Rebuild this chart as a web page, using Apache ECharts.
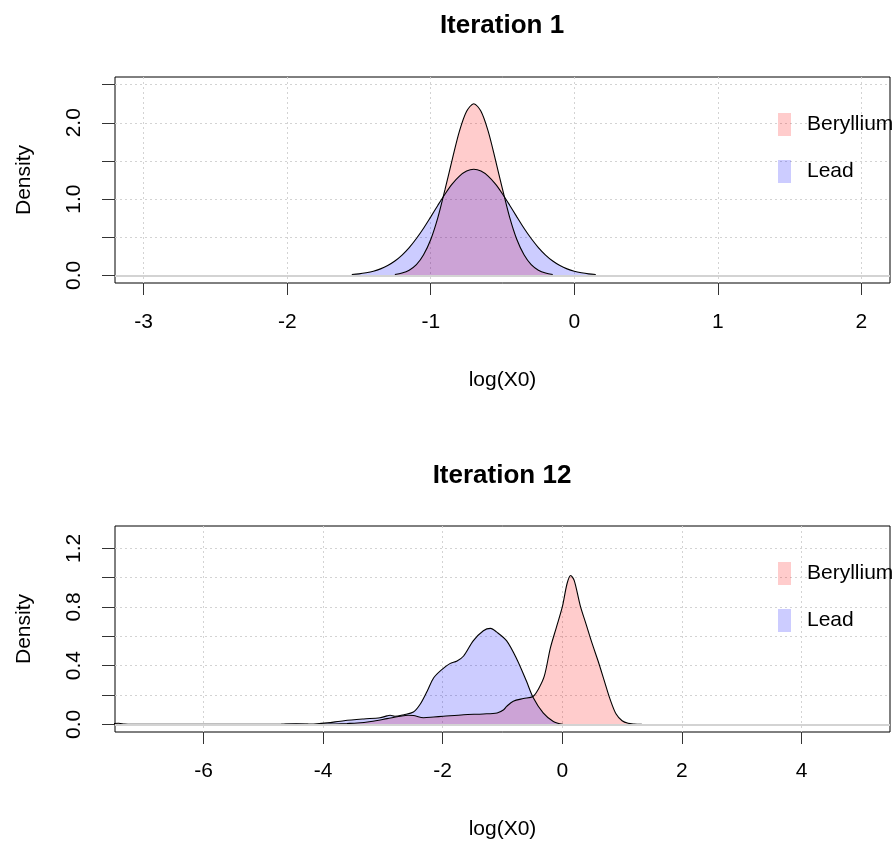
<!DOCTYPE html>
<html>
<head>
<meta charset="utf-8">
<script src="https://cdn.jsdelivr.net/npm/echarts@6/dist/echarts.min.js"></script>
<style>
  html, body { margin: 0; padding: 0; background: #fff; }
  #chart { width: 892px; height: 844px; }
</style>
</head>
<body>
<div id="chart"></div>
<script>
// Iteration 1: kernel density of log(X0)
const it1BerylliumX = [-1.25, -1.20, -1.15, -1.10, -1.05, -1.00, -0.95, -0.90, -0.85, -0.80, -0.75, -0.70,
  -0.65, -0.60, -0.55, -0.50, -0.45, -0.40, -0.35, -0.30, -0.25, -0.20, -0.15];
const it1BerylliumY = [0.012, 0.03, 0.068, 0.14, 0.27, 0.47, 0.76, 1.13, 1.52, 1.89, 2.15, 2.25,
  2.15, 1.89, 1.52, 1.13, 0.76, 0.47, 0.27, 0.14, 0.068, 0.03, 0.012];

const it1LeadX = [-1.55, -1.50, -1.45, -1.40, -1.35, -1.30, -1.25, -1.20, -1.15, -1.10, -1.05, -1.00,
  -0.95, -0.90, -0.85, -0.80, -0.75, -0.70, -0.65, -0.60, -0.55, -0.50, -0.45, -0.40,
  -0.35, -0.30, -0.25, -0.20, -0.15, -0.10, -0.05, 0.00, 0.05, 0.10, 0.15];
const it1LeadY = [0.012, 0.020, 0.034, 0.054, 0.085, 0.129, 0.188, 0.266, 0.364, 0.483, 0.618, 0.767,
  0.920, 1.067, 1.198, 1.301, 1.367, 1.39, 1.367, 1.301, 1.198, 1.067, 0.920, 0.767,
  0.618, 0.483, 0.364, 0.266, 0.188, 0.129, 0.085, 0.054, 0.034, 0.020, 0.012];

// Iteration 12
const it12BerylliumX = [-7.60, -7.50, -7.42, -7.32, -7.20, -4.05, -3.80, -3.60, -3.43, -3.20, -2.93, -2.71,
  -2.58, -2.49, -2.32, -2.15, -1.99, -1.65, -1.32, -1.09, -0.98, -0.93, -0.82, -0.65,
  -0.49, -0.40, -0.30, -0.20, -0.10, 0.00, 0.08, 0.14, 0.20, 0.30, 0.40, 0.50,
  0.60, 0.70, 0.80, 0.90, 1.00, 1.10, 1.20, 1.33];
const it12BerylliumY = [0, 0.006, 0.008, 0.002, 0, 0, 0.003, 0.006, 0.009, 0.02, 0.039, 0.055,
  0.062, 0.06, 0.045, 0.05, 0.055, 0.066, 0.071, 0.078, 0.10, 0.123, 0.158, 0.176,
  0.19, 0.24, 0.33, 0.52, 0.66, 0.80, 0.96, 1.015, 0.98, 0.81, 0.68, 0.55,
  0.43, 0.30, 0.17, 0.07, 0.025, 0.007, 0.002, 0];

const it12LeadX = [-4.70, -4.63, -4.45, -4.30, -4.22, -4.16, -3.93, -3.65, -3.32, -3.05, -2.93, -2.88,
  -2.80, -2.65, -2.49, -2.38, -2.26, -2.15, -2.01, -1.88, -1.76, -1.65, -1.49, -1.32,
  -1.20, -1.10, -0.93, -0.76, -0.60, -0.49, -0.32, -0.15, 0.01];
const it12LeadY = [0, 0.003, 0.004, 0.003, 0, 0.001, 0.01, 0.025, 0.037, 0.045, 0.058, 0.062,
  0.055, 0.066, 0.084, 0.135, 0.226, 0.318, 0.375, 0.414, 0.432, 0.466, 0.569, 0.638,
  0.654, 0.63, 0.569, 0.444, 0.295, 0.185, 0.078, 0.02, 0];

// Axis ticks and labels
const xTicksTop = [-3, -2, -1, 0, 1, 2];
const yTicksTop = [0, 0.5, 1, 1.5, 2, 2.5];
const yLabelsTop = [0, 1, 2];
const xTicksBottom = [-6, -4, -2, 0, 2, 4];
const yTicksBottom = [0, 0.2, 0.4, 0.6, 0.8, 1.0, 1.2];
const yLabelsBottom = [0, 0.4, 0.8, 1.2];

const seriesNames = ['Beryllium', 'Lead'];
const fillColors = ['rgba(255,0,0,0.2)', 'rgba(0,0,255,0.2)'];

const FONT = '"Liberation Sans", Arial, Helvetica, sans-serif';
const zip = (xs, ys) => xs.map((x, i) => [x, ys[i]]);

function xAxisFor(gridIndex, min, max, ticks) {
  return {
    type: 'value', gridIndex, min, max,
    name: 'log(X0)', nameLocation: 'middle', nameGap: 87,
    nameTextStyle: { fontFamily: FONT, fontSize: 21, color: '#000' },
    axisLine: { show: false, onZero: false },
    axisTick: { show: true, length: 12, customValues: ticks, lineStyle: { color: '#333', width: 1 } },
    axisLabel: { customValues: ticks, fontFamily: FONT, fontSize: 21, color: '#000', margin: 29,
      formatter: v => String(v) },
    splitLine: { show: true, lineStyle: { color: '#d3d3d3', type: [2, 3], width: 1 } }
  };
}

function yAxisFor(gridIndex, min, max, ticks, labels) {
  return {
    type: 'value', gridIndex, min, max,
    name: 'Density', nameLocation: 'middle', nameGap: 80, nameRotate: 90,
    nameTextStyle: { fontFamily: FONT, fontSize: 21, color: '#000' },
    axisLine: { show: false, onZero: false },
    axisTick: { show: true, length: 13, customValues: ticks, lineStyle: { color: '#333', width: 1 } },
    axisLabel: { customValues: labels, rotate: 90, fontFamily: FONT, fontSize: 21, color: '#000', margin: 30,
      formatter: v => v.toFixed(1) },
    splitLine: { show: true, lineStyle: { color: '#d3d3d3', type: [2, 3], width: 1 } }
  };
}

function densitySeries(name, idx, data, gridIndex) {
  return {
    name, type: 'line', xAxisIndex: gridIndex, yAxisIndex: gridIndex,
    data, showSymbol: false, symbol: 'none', smooth: 0.3, clip: true, z: 3,
    itemStyle: { color: fillColors[idx] },
    lineStyle: { color: '#000', width: 1.1 },
    areaStyle: { color: fillColors[idx], opacity: 1 },
    emphasis: { disabled: true }
  };
}

function zeroLine(gridIndex) {
  return {
    type: 'line', xAxisIndex: gridIndex, yAxisIndex: gridIndex, data: [], z: 2,
    markLine: { silent: true, symbol: 'none', label: { show: false },
      lineStyle: { color: '#d3d3d3', width: 2, type: 'solid' },
      data: [{ yAxis: 0 }] }
  };
}

function legendFor(top) {
  return {
    orient: 'vertical', left: 778, top, padding: 0,
    icon: 'rect', itemWidth: 13, itemHeight: 23, itemGap: 24,
    selectedMode: false,
    textStyle: { fontFamily: FONT, fontSize: 21, color: '#000', padding: [0, 0, 0, 11] },
    data: seriesNames.map((n, i) => ({ name: n, itemStyle: { color: fillColors[i], borderWidth: 0 } }))
  };
}

const chart = echarts.init(document.getElementById('chart'), null, { renderer: 'canvas' });
chart.setOption({
  animation: false,
  backgroundColor: '#fff',
  title: [
    { text: 'Iteration 1', left: 502, top: 13, textAlign: 'center', padding: 0,
      textStyle: { fontFamily: FONT, fontSize: 26, fontWeight: 'bold', color: '#000' } },
    { text: 'Iteration 12', left: 502, top: 463, textAlign: 'center', padding: 0,
      textStyle: { fontFamily: FONT, fontSize: 26, fontWeight: 'bold', color: '#000' } }
  ],
  legend: [legendFor(113), legendFor(562)],
  grid: [
    { left: 115, top: 77, width: 775, height: 206, show: true, borderColor: '#000', borderWidth: 1,
      backgroundColor: 'transparent' },
    { left: 115, top: 526, width: 775, height: 206, show: true, borderColor: '#000', borderWidth: 1,
      backgroundColor: 'transparent' }
  ],
  xAxis: [
    xAxisFor(0, -3.2, 2.2, xTicksTop),
    xAxisFor(1, -7.48, 5.48, xTicksBottom)
  ],
  yAxis: [
    yAxisFor(0, -0.1, 2.6, yTicksTop, yLabelsTop),
    yAxisFor(1, -0.052, 1.352, yTicksBottom, yLabelsBottom)
  ],
  series: [
    zeroLine(0),
    densitySeries('Beryllium', 0, zip(it1BerylliumX, it1BerylliumY), 0),
    densitySeries('Lead', 1, zip(it1LeadX, it1LeadY), 0),
    zeroLine(1),
    densitySeries('Beryllium', 0, zip(it12BerylliumX, it12BerylliumY), 1),
    densitySeries('Lead', 1, zip(it12LeadX, it12LeadY), 1)
  ]
});
</script>
</body>
</html>
